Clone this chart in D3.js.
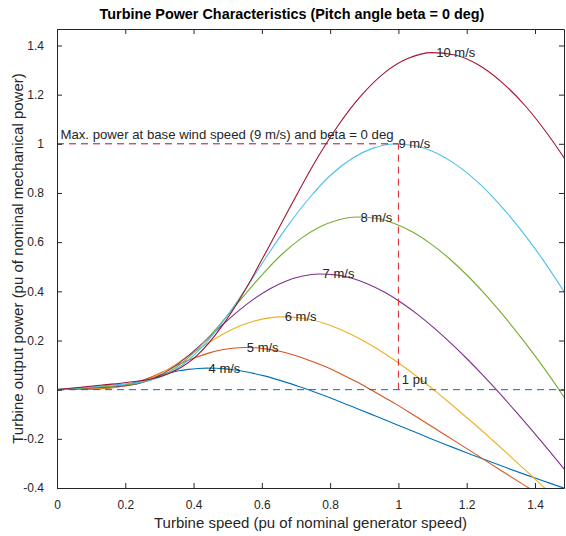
<!DOCTYPE html>
<html>
<head>
<meta charset="utf-8">
<script src="https://cdn.jsdelivr.net/npm/d3@7"></script>
<style>
  body { margin: 0; background: #fff; }
  text { font-family: 'Liberation Sans', Arial, sans-serif; }
</style>
</head>
<body>
<div id="chartArea"></div>
<script>
const svgWidth = 566;
const svgHeight = 536;

// wind speeds and series colours (MATLAB default order)
const speeds = [4, 5, 6, 7, 8, 9, 10];
const speedColors = ['#0072BD', '#D95319', '#EDB120', '#7E2F8E', '#77AC30', '#4DBEEE', '#A2142F'];

// [turbine speed pu, output power pu]
const curve4 = [[0,0],[0.027,0.0006],[0.055,0.0012],[0.082,0.0019],[0.110,0.0028],[0.137,0.0048],[0.165,0.0091],[0.192,0.0161],[0.219,0.0256],[0.247,0.0366],[0.274,0.0481],[0.302,0.0590],[0.329,0.0687],[0.357,0.0767],[0.384,0.0825],[0.412,0.0863],[0.439,0.0878],[0.466,0.0871],[0.494,0.0845],[0.521,0.0800],[0.549,0.0739],[0.576,0.0662],[0.604,0.0572],[0.631,0.0470],[0.658,0.0357],[0.686,0.0236],[0.713,0.0108],[0.741,-0.0027],[0.768,-0.0167],[0.796,-0.0311],[0.823,-0.0459],[0.850,-0.0610],[0.878,-0.0763],[0.933,-0.1072],[0.988,-0.1384],[1.043,-0.1695],[1.097,-0.2004],[1.152,-0.2307],[1.207,-0.2605],[1.262,-0.2896],[1.317,-0.3180],[1.372,-0.3456],[1.427,-0.3725],[1.481,-0.3985],[1.492,-0.4036]];
const curve5 = [[0,0],[0.034,0.0012],[0.069,0.0024],[0.103,0.0037],[0.137,0.0054],[0.171,0.0093],[0.206,0.0177],[0.240,0.0315],[0.274,0.0501],[0.309,0.0716],[0.343,0.0939],[0.377,0.1153],[0.412,0.1342],[0.446,0.1497],[0.480,0.1612],[0.514,0.1685],[0.549,0.1714],[0.583,0.1702],[0.617,0.1650],[0.652,0.1563],[0.686,0.1442],[0.720,0.1292],[0.754,0.1116],[0.789,0.0917],[0.823,0.0698],[0.857,0.0462],[0.892,0.0211],[0.926,-0.0053],[0.960,-0.0326],[0.995,-0.0608],[1.029,-0.0897],[1.063,-0.1191],[1.097,-0.1490],[1.166,-0.2094],[1.235,-0.2704],[1.303,-0.3311],[1.372,-0.3913],[1.440,-0.4506]];
const curve6 = [[0,0],[0.041,0.0021],[0.082,0.0042],[0.123,0.0063],[0.165,0.0093],[0.206,0.0161],[0.247,0.0306],[0.288,0.0545],[0.329,0.0865],[0.370,0.1236],[0.412,0.1623],[0.453,0.1992],[0.494,0.2319],[0.535,0.2587],[0.576,0.2786],[0.617,0.2911],[0.658,0.2962],[0.700,0.2941],[0.741,0.2852],[0.782,0.2700],[0.823,0.2492],[0.864,0.2233],[0.905,0.1929],[0.947,0.1585],[0.988,0.1206],[1.029,0.0798],[1.070,0.0364],[1.111,-0.0091],[1.152,-0.0564],[1.193,-0.1051],[1.235,-0.1550],[1.276,-0.2059],[1.317,-0.2575],[1.399,-0.3619],[1.481,-0.4672]];
const curve7 = [[0,0],[0.048,0.0033],[0.096,0.0067],[0.144,0.0101],[0.192,0.0148],[0.240,0.0255],[0.288,0.0486],[0.336,0.0865],[0.384,0.1374],[0.432,0.1963],[0.480,0.2577],[0.528,0.3163],[0.576,0.3682],[0.624,0.4108],[0.672,0.4424],[0.720,0.4622],[0.768,0.4703],[0.816,0.4670],[0.864,0.4529],[0.912,0.4288],[0.960,0.3958],[1.008,0.3546],[1.056,0.3063],[1.104,0.2516],[1.152,0.1915],[1.200,0.1267],[1.248,0.0578],[1.296,-0.0144],[1.344,-0.0895],[1.392,-0.1669],[1.440,-0.2461],[1.488,-0.3269]];
const curve8 = [[0,0],[0.055,0.0050],[0.110,0.0100],[0.165,0.0150],[0.219,0.0220],[0.274,0.0381],[0.329,0.0725],[0.384,0.1291],[0.439,0.2051],[0.494,0.2931],[0.549,0.3847],[0.604,0.4722],[0.658,0.5497],[0.713,0.6132],[0.768,0.6603],[0.823,0.6900],[0.878,0.7020],[0.933,0.6970],[0.988,0.6760],[1.043,0.6401],[1.097,0.5908],[1.152,0.5293],[1.207,0.4572],[1.262,0.3756],[1.317,0.2859],[1.372,0.1891],[1.427,0.0863],[1.481,-0.0215],[1.536,-0.1336]];
const curve9 = [[0,0],[0.062,0.0071],[0.123,0.0142],[0.185,0.0214],[0.247,0.0314],[0.309,0.0543],[0.370,0.1032],[0.432,0.1838],[0.494,0.2920],[0.556,0.4173],[0.617,0.5477],[0.679,0.6723],[0.741,0.7827],[0.802,0.8731],[0.864,0.9402],[0.926,0.9824],[0.988,0.9995],[1.049,0.9924],[1.111,0.9625],[1.173,0.9114],[1.235,0.8412],[1.296,0.7537],[1.358,0.6510],[1.420,0.5348],[1.481,0.4071],[1.543,0.2693]];
const curve10 = [[0,0],[0.069,0.0097],[0.137,0.0194],[0.206,0.0293],[0.274,0.0430],[0.343,0.0745],[0.412,0.1416],[0.480,0.2522],[0.549,0.4005],[0.617,0.5724],[0.686,0.7513],[0.754,0.9222],[0.823,1.0736],[0.892,1.1976],[0.960,1.2897],[1.029,1.3476],[1.097,1.3711],[1.166,1.3614],[1.235,1.3203],[1.303,1.2502],[1.372,1.1538],[1.440,1.0339],[1.509,0.8930]];

// label anchor = peak of each curve
const peakX = [0.444, 0.556, 0.667, 0.778, 0.889, 1.0, 1.111];
const peakP = [0.088, 0.171, 0.296, 0.471, 0.702, 1.0, 1.372];

const xTicks = [0, 0.2, 0.4, 0.6, 0.8, 1, 1.2, 1.4];
const xTickLabels = ['0', '0.2', '0.4', '0.6', '0.8', '1', '1.2', '1.4'];
const yTicks = [-0.4, -0.2, 0, 0.2, 0.4, 0.6, 0.8, 1, 1.2, 1.4];
const yTickLabels = ['-0.4', '-0.2', '0', '0.2', '0.4', '0.6', '0.8', '1', '1.2', '1.4'];

const curves = [curve4, curve5, curve6, curve7, curve8, curve9, curve10];

const plotLeft = 57, plotRight = 564, plotTop = 29, plotBottom = 488;

const x = d3.scaleLinear().domain([0, 1.485]).range([plotLeft, plotRight]);
const y = d3.scaleLinear().domain([-0.4, 1.467]).range([plotBottom, plotTop]);

const canvas = d3.select('#chartArea')
  .append('svg')
  .attr('width', svgWidth)
  .attr('height', svgHeight)
  .style('background', '#fff');

canvas.append('defs').append('clipPath')
  .attr('id', 'plotClip')
  .append('rect')
  .attr('x', plotLeft)
  .attr('y', plotTop)
  .attr('width', plotRight - plotLeft)
  .attr('height', plotBottom - plotTop);

const plot = canvas.append('g').attr('clip-path', 'url(#plotClip)');

const line = d3.line()
  .x(d => x(d[0]))
  .y(d => y(d[1]))
  .curve(d3.curveMonotoneX);

curves.forEach((c, i) => {
  plot.append('path')
    .datum(c)
    .attr('d', line)
    .attr('fill', 'none')
    .attr('stroke', speedColors[i])
    .attr('stroke-width', 1.1);
});

// reference dashed lines
plot.append('line')
  .attr('x1', x(0)).attr('y1', y(0))
  .attr('x2', plotRight).attr('y2', y(0))
  .attr('stroke', '#0072BD')
  .attr('stroke-width', 1)
  .attr('stroke-dasharray', '7,5');

plot.append('line')
  .attr('x1', x(0)).attr('y1', y(1))
  .attr('x2', x(1)).attr('y2', y(1))
  .attr('stroke', '#A2142F')
  .attr('stroke-width', 1)
  .attr('stroke-dasharray', '7,5');

plot.append('line')
  .attr('x1', x(1)).attr('y1', y(0))
  .attr('x2', x(1)).attr('y2', y(1))
  .attr('stroke', '#E0202A')
  .attr('stroke-width', 1)
  .attr('stroke-dasharray', '7,5');

// curve labels
speeds.forEach((s, i) => {
  canvas.append('text')
    .attr('x', x(peakX[i]))
    .attr('y', y(peakP[i]))
    .attr('dy', '0.35em')
    .attr('font-size', '13px')
    .attr('fill', '#262626')
    .text(s + ' m/s');
});

canvas.append('text')
  .attr('x', x(0.01))
  .attr('y', y(1.04))
  .attr('dy', '0.35em')
  .attr('font-size', '13.2px')
  .attr('fill', '#262626')
  .text('Max. power at base wind speed (9 m/s) and beta = 0 deg');

canvas.append('text')
  .attr('x', x(1.01))
  .attr('y', y(0.04))
  .attr('dy', '0.35em')
  .attr('font-size', '13px')
  .attr('fill', '#262626')
  .text('1 pu');

// axes, MATLAB style box with inward ticks
const axisColor = '#262626';

function styleAxis(g) {
  g.selectAll('path').attr('stroke', axisColor);
  g.selectAll('line').attr('stroke', axisColor);
  g.selectAll('text')
    .attr('fill', axisColor)
    .style('font-size', '12px')
    .style('font-family', "'Liberation Sans', Arial, sans-serif");
}

canvas.append('g')
  .attr('transform', `translate(0,${plotBottom})`)
  .call(d3.axisBottom(x).tickValues(xTicks)
    .tickFormat((d, i) => xTickLabels[i])
    .tickSizeInner(-5).tickSizeOuter(0).tickPadding(12))
  .call(styleAxis);

canvas.append('g')
  .attr('transform', `translate(0,${plotTop})`)
  .call(d3.axisTop(x).tickValues(xTicks)
    .tickFormat('').tickSizeInner(-5).tickSizeOuter(0))
  .call(styleAxis);

canvas.append('g')
  .attr('transform', `translate(${plotLeft},0)`)
  .call(d3.axisLeft(y).tickValues(yTicks)
    .tickFormat((d, i) => yTickLabels[i])
    .tickSizeInner(-5).tickSizeOuter(0).tickPadding(13))
  .call(styleAxis);

canvas.append('g')
  .attr('transform', `translate(${plotRight},0)`)
  .call(d3.axisRight(y).tickValues(yTicks)
    .tickFormat('').tickSizeInner(-5).tickSizeOuter(0))
  .call(styleAxis);

// title and axis labels
canvas.append('text')
  .attr('x', 292)
  .attr('y', 14)
  .attr('dy', '0.35em')
  .attr('text-anchor', 'middle')
  .attr('font-size', '14.4px')
  .attr('font-weight', 'bold')
  .attr('fill', '#000')
  .text('Turbine Power Characteristics (Pitch angle beta = 0 deg)');

canvas.append('text')
  .attr('x', (plotLeft + plotRight) / 2)
  .attr('y', 523)
  .attr('dy', '0.35em')
  .attr('text-anchor', 'middle')
  .attr('font-size', '15px')
  .attr('fill', axisColor)
  .text('Turbine speed (pu of nominal generator speed)');

canvas.append('text')
  .attr('transform', `translate(18,${(plotTop + plotBottom) / 2}) rotate(-90)`)
  .attr('dy', '0.35em')
  .attr('text-anchor', 'middle')
  .attr('font-size', '15px')
  .attr('fill', axisColor)
  .text('Turbine output power (pu of nominal mechanical power)');
</script>
</body>
</html>
